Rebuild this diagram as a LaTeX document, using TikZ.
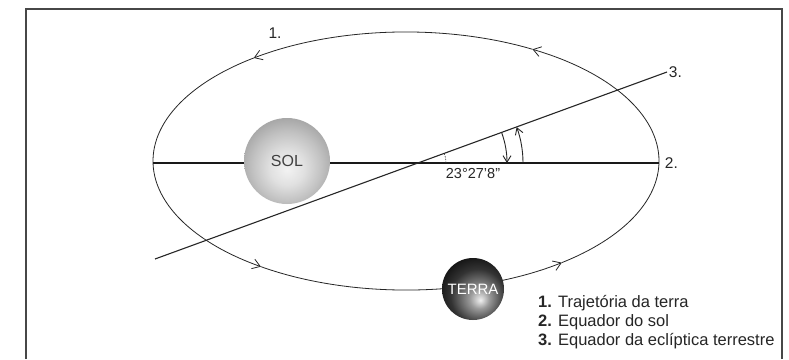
\documentclass[tikz,border=0pt]{standalone}
\usepackage{fontspec}
\setmainfont{Liberation Sans}
\usetikzlibrary{arrows.meta,positioning}

% shaded balls for the sun and the earth
\pgfdeclareradialshading{solshade}{\pgfpoint{0bp}{-5bp}}{color(0bp)=(black!5); color(10bp)=(black!12); color(20bp)=(black!24); color(30bp)=(black!38); color(38bp)=(black!48); color(56bp)=(black!55)}
\pgfdeclareradialshading{terrashade}{\pgfpoint{6bp}{-9bp}}{color(0bp)=(black!6); color(8bp)=(black!40); color(22bp)=(black!80); color(34bp)=(black!96); color(62bp)=(black)}

\tikzset{
  frame/.style={draw=black!72, line width=1.4pt},
  orbit/.style={draw=black!85, line width=0.8pt},
  barb/.style={-{Straight Barb[length=7.5pt,width=10pt,line width=0.8pt]}},
  angarrow/.style={draw=black!85, line width=0.9pt, -{Straight Barb[length=6.5pt,width=8pt,line width=0.9pt]}},
  lbl/.style={inner sep=0.75pt, font=\fontsize{15.5}{18}\selectfont, text=black!85},
}

\begin{document}
\begin{tikzpicture}[x=1pt,y=1pt,yscale=-1,xscale=1]
  \useasboundingbox (0,0) rectangle (789,359);
  \fill[white] (0,0) rectangle (789,359);

  %Frame
  \draw[frame] (26,359) -- (26,9) -- (782,9) -- (782,359);

  \coordinate (orb) at (406,161);
  \coordinate (o) at (418,163);
  \coordinate (eqW) at (153,163);
  \coordinate (eqE) at (659,163);
  \coordinate (ecW) at (155,259);
  \coordinate (ecE) at (667,72);

  %Orbit of the earth, in pieces so that each one ends in a barb
  \foreach \a/\b in {0/-60,-60/-127,-127/-235,-235/-308}
    \draw[orbit,barb] (orb) ++(\a:253 and 129) arc[start angle=\a,end angle=\b,x radius=253,y radius=129];
  \draw[orbit] (orb) ++(-308:253 and 129) arc[start angle=-308,end angle=-360,x radius=253,y radius=129];

  %Straight Lines
  \draw[draw=black!90, line width=2pt] (eqW) -- (eqE);
  \draw[draw=black!85, line width=1.1pt] (ecW) -- (ecE);

  %Angle between the two planes
  \draw[draw=black!80, line width=0.6pt, dash pattern=on 1.5pt off 1.2pt] (o) ++(-20:28) arc[start angle=-20,end angle=0,radius=28];
  \draw[angarrow] (o) ++(-20:89) arc[start angle=-20,end angle=0,radius=89];
  \draw[angarrow] (o) ++(0:105) arc[start angle=0,end angle=-20,radius=105];

  %Sun and earth
  \node[circle, minimum size=86pt, inner sep=0pt, shading=solshade, text=black!75,
        font=\fontsize{16}{18}\selectfont] (sol) at (287,161) {SOL};
  \node[circle, minimum size=62pt, inner sep=0pt, shading=terrashade, text=white,
        font=\fontsize{15}{18}\selectfont] (terra) at (473,289) {TERRA};

  % Text Node
  \node[lbl] (one) at (275,33) {1.};
  \node[lbl, right=5pt of eqE] (two) {2.};
  \node[lbl, right=1pt of ecE] (three) {3.};
  \node[lbl, font=\fontsize{14.5}{16}\selectfont] (angle) at (473,174) {23°27\symbol{39}8\symbol{34}};

  % Legend
  \node[anchor=north west, inner sep=0pt, align=left, text=black!85,
        font=\fontsize{16.5}{19}\selectfont] (legend) at (538,295)
    {\textbf{1.} Trajetória da terra\\
     \textbf{2.} Equador do sol\\
     \textbf{3.} Equador da eclíptica terrestre};
\end{tikzpicture}
\end{document}
